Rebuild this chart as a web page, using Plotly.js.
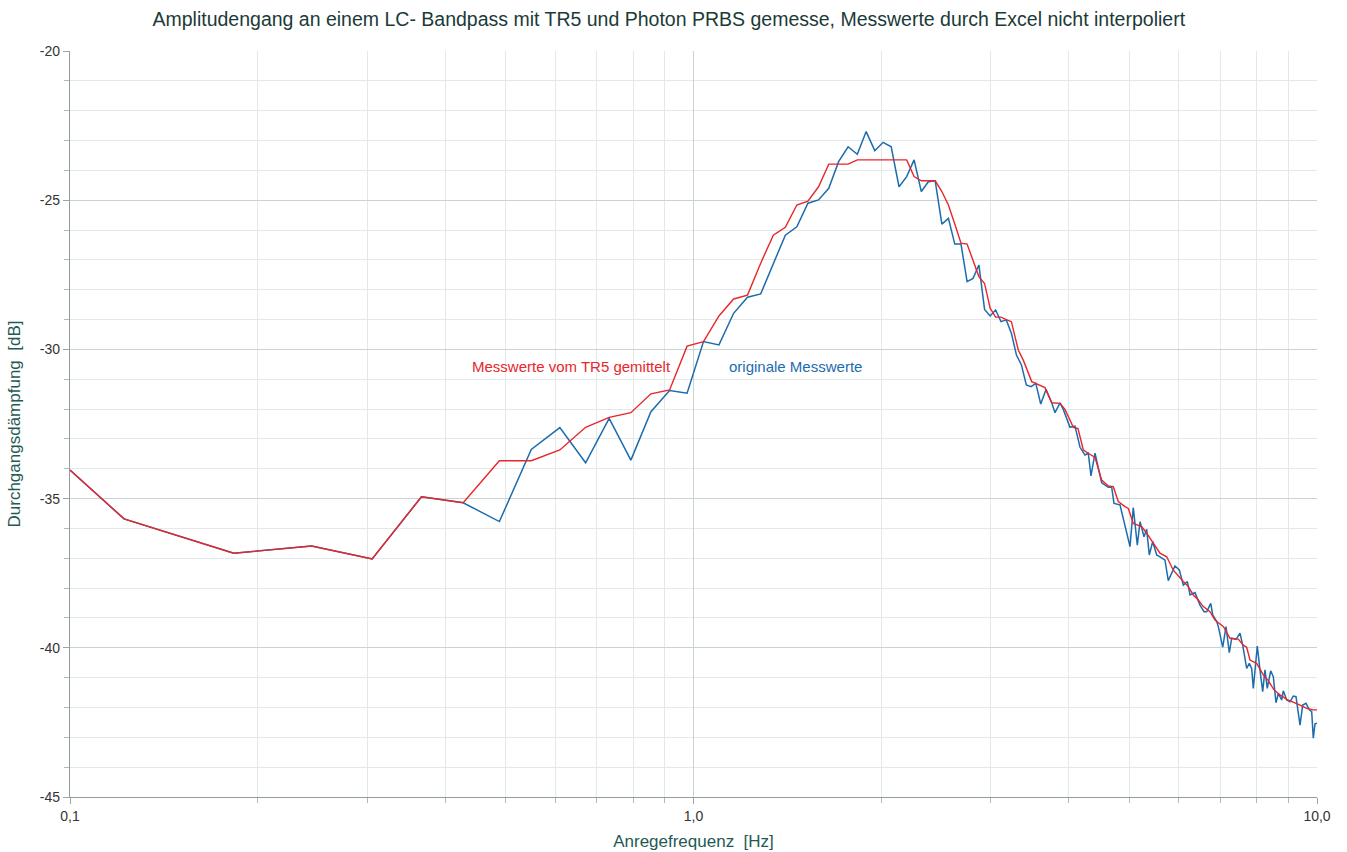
<!DOCTYPE html>
<html>
<head>
<meta charset="utf-8">
<script src="https://cdn.plot.ly/plotly-3.0.1.min.js"></script>
<style>
  html, body { margin: 0; padding: 0; background: #ffffff; }
  #chart { width: 1347px; height: 852px; }
</style>
</head>
<body>
<div id="chart"></div>
<script>
// ---- Data ----
// original measured values (blue)
const origFreq = [
  0.1, 0.1221, 0.1831, 0.2441, 0.3052, 0.3662, 0.4272, 0.4883, 0.5493, 0.6104,
  0.6714, 0.7324, 0.7935, 0.8545, 0.9155, 0.9766, 1.0376, 1.0986, 1.1597, 1.2207,
  1.2817, 1.3428, 1.4038, 1.4648, 1.5259, 1.5869, 1.6479, 1.7090, 1.7700, 1.8311,
  1.8921, 1.9531, 2.0142, 2.0752, 2.1362, 2.1973, 2.2583, 2.3193, 2.3804, 2.4414,
  2.5024, 2.5635, 2.6245, 2.6855, 2.7466, 2.8076, 2.8687, 2.9297, 2.9907, 3.0518,
  3.1128, 3.1738, 3.2349, 3.2959, 3.3569, 3.4180, 3.4790, 3.5400,
  3.605, 3.676, 3.754, 3.800, 3.871, 3.918, 4.016, 4.091, 4.168, 4.245,
  4.297, 4.340, 4.405, 4.515, 4.627, 4.685, 4.725, 4.831, 4.921, 5.013,
  5.074, 5.150, 5.202, 5.279, 5.331, 5.383, 5.451, 5.532, 5.600, 5.704,
  5.774, 5.918, 6.014, 6.104, 6.195, 6.257, 6.373, 6.492, 6.589, 6.655,
  6.754, 6.804, 6.905, 6.946, 7.060, 7.146, 7.234, 7.298, 7.415, 7.525,
  7.600, 7.713, 7.788, 7.857, 7.904, 8.021, 8.101, 8.183, 8.252, 8.323,
  8.428, 8.510, 8.595, 8.669, 8.778, 8.830, 8.942, 9.051, 9.162, 9.254,
  9.392, 9.486, 9.602, 9.720, 9.806, 9.864, 9.926, 10.0
];
const origDb = [
  -34.04, -35.68, -36.83, -36.59, -37.02, -34.94, -35.14, -35.77, -33.35, -32.62,
  -33.80, -32.31, -33.71, -32.09, -31.38, -31.47, -29.74, -29.85, -28.79, -28.25,
  -28.14, -27.11, -26.17, -25.89, -25.10, -24.99, -24.60, -23.71, -23.21, -23.46,
  -22.70, -23.34, -23.06, -23.21, -24.55, -24.21, -23.65, -24.71, -24.38, -24.35,
  -25.80, -25.61, -26.47, -26.47, -27.73, -27.62, -27.17, -28.66, -28.88, -28.68,
  -29.07, -29.01, -29.46, -30.19, -30.52, -31.19, -31.25, -31.14,
  -31.83, -31.34, -31.79, -32.12, -31.79, -32.01, -32.61, -32.57, -33.28, -33.54,
  -33.48, -34.24, -33.48, -34.47, -34.62, -34.62, -35.16, -35.21, -35.88, -36.61,
  -35.30, -36.56, -35.77, -36.28, -36.03, -36.89, -36.44, -36.89, -36.95, -37.06,
  -37.75, -37.26, -37.39, -37.90, -37.78, -38.23, -38.15, -38.57, -38.79, -38.79,
  -38.51, -38.90, -39.12, -39.29, -39.98, -39.29, -40.16, -39.68, -39.72, -39.51,
  -39.91, -40.69, -40.52, -40.69, -41.36, -39.94, -40.74, -41.47, -40.74, -41.36,
  -40.77, -40.97, -41.84, -41.53, -41.75, -41.44, -41.75, -41.81, -41.62, -41.64,
  -42.59, -41.92, -41.86, -42.08, -42.14, -43.03, -42.55, -42.53
];

// values averaged by the TR5 (red)
const avgFreq = [
  0.1, 0.1221, 0.1831, 0.2441, 0.3052, 0.3662, 0.4272, 0.4883, 0.5493, 0.6104,
  0.6714, 0.7324, 0.7935, 0.8545, 0.9155, 0.9766, 1.0376, 1.0986, 1.1597, 1.2207,
  1.2817, 1.3428, 1.4038, 1.4648, 1.5259, 1.5869, 1.6479, 1.7090, 1.7700, 1.8311,
  1.8921, 1.9531, 2.0142, 2.0752, 2.1362, 2.1973, 2.2583, 2.3193, 2.3804, 2.4414,
  2.5024, 2.5635, 2.6245, 2.6855, 2.7466, 2.8076, 2.8687, 2.9297, 2.9907, 3.0518,
  3.1128, 3.1738, 3.2349,
  3.318, 3.380, 3.487, 3.662, 3.754, 3.871, 3.943, 4.066, 4.137, 4.219,
  4.297, 4.405, 4.515, 4.627, 4.713, 4.801, 4.921, 4.982, 5.074, 5.234,
  5.331, 5.463, 5.600, 5.740, 5.882, 6.104, 6.218, 6.333, 6.451, 6.572,
  6.736, 6.862, 7.079, 7.253, 7.478, 7.617, 7.713, 7.808, 8.003, 8.201,
  8.354, 8.532, 8.723, 8.942, 9.142, 9.392, 9.627, 9.864, 10.0
];
const avgDb = [
  -34.04, -35.68, -36.83, -36.59, -37.02, -34.94, -35.14, -33.73, -33.73, -33.37,
  -32.61, -32.28, -32.12, -31.49, -31.36, -29.89, -29.74, -28.88, -28.31, -28.18,
  -27.11, -26.17, -25.91, -25.16, -25.03, -24.55, -23.79, -23.79, -23.79, -23.65,
  -23.65, -23.65, -23.65, -23.65, -23.65, -23.65, -24.21, -24.35, -24.35, -24.35,
  -24.71, -25.16, -25.80, -26.44, -26.47, -27.00, -27.56, -27.79, -28.62, -28.92,
  -28.92, -29.00, -29.07,
  -30.02, -30.36, -31.08, -31.28, -31.79, -31.81, -32.01, -32.61, -32.65, -33.37,
  -33.48, -33.62, -34.38, -34.58, -34.60, -35.10, -35.27, -35.33, -35.83, -35.94,
  -36.16, -36.50, -36.83, -36.95, -37.40, -37.78, -37.95, -38.23, -38.40, -38.62,
  -38.79, -39.07, -39.29, -39.68, -39.71, -39.91, -39.98, -40.41, -40.52, -40.91,
  -41.10, -41.41, -41.58, -41.73, -41.81, -41.92, -42.03, -42.08, -42.08
];

const xTickVals = [0.1, 1, 10];
const xTickText = ['0,1', '1,0', '10,0'];
const xMinorVals = [0.2, 0.3, 0.4, 0.5, 0.6, 0.7, 0.8, 0.9, 2, 3, 4, 5, 6, 7, 8, 9];
const yTickVals = [-45, -40, -35, -30, -25, -20];
const yTickText = ['-45', '-40', '-35', '-30', '-25', '-20'];

const titleText = 'Amplitudengang an einem LC- Bandpass mit TR5 und Photon PRBS gemesse, Messwerte durch Excel nicht interpoliert';
const xTitle = 'Anregefrequenz\u00a0\u00a0[Hz]';
const yTitle = 'Durchgangsdämpfung\u00a0\u00a0[dB]';
const labelAvg = 'Messwerte vom TR5 gemittelt';
const labelOrig = 'originale Messwerte';

// ---- Styles ----
const BLUE = '#1c6cae';
const RED = '#e8262b';
const FONT = 'Liberation Sans, Arial, sans-serif';

const traces = [
  {
    x: origFreq, y: origDb, type: 'scatter', mode: 'lines',
    line: { color: BLUE, width: 1.5 }, name: labelOrig, hoverinfo: 'x+y'
  },
  {
    x: avgFreq, y: avgDb, type: 'scatter', mode: 'lines',
    line: { color: RED, width: 1.4 }, name: labelAvg, hoverinfo: 'x+y'
  }
];

const layout = {
  width: 1347, height: 852,
  margin: { l: 70, r: 30, t: 51, b: 55 },
  paper_bgcolor: '#ffffff', plot_bgcolor: '#ffffff',
  showlegend: false,
  font: { family: FONT, color: '#333333', size: 13 },
  title: {
    text: titleText,
    font: { family: FONT, size: 19.5, color: '#1b3a38' },
    x: 0.4965, xref: 'container', xanchor: 'center',
    y: 0.978, yref: 'container', yanchor: 'middle'
  },
  xaxis: {
    type: 'log', range: [-1, 1],
    tickmode: 'array', tickvals: xTickVals, ticktext: xTickText,
    ticks: 'outside', ticklen: 6, tickcolor: '#9aa6a6',
    showgrid: true, gridcolor: '#c9d3d3', gridwidth: 1,
    showline: true, linecolor: '#8f9d9d', linewidth: 1.2,
    zeroline: false,
    tickfont: { family: FONT, size: 14, color: '#333333' },
    minor: {
      tickmode: 'array', tickvals: xMinorVals,
      showgrid: true, gridcolor: '#e3e8e8', gridwidth: 1,
      ticks: 'outside', ticklen: 5, tickcolor: '#b0baba'
    },
    title: {
      text: xTitle, standoff: 12,
      font: { family: FONT, size: 17, color: '#1f5a55' }
    }
  },
  yaxis: {
    range: [-45, -20],
    tickmode: 'array', tickvals: yTickVals, ticktext: yTickText,
    ticks: 'outside', ticklen: 6, tickcolor: '#9aa6a6',
    showgrid: true, gridcolor: '#c9d3d3', gridwidth: 1,
    showline: true, linecolor: '#8f9d9d', linewidth: 1.2,
    zeroline: false,
    tickfont: { family: FONT, size: 14, color: '#333333' },
    minor: {
      dtick: 1, showgrid: true, gridcolor: '#e3e8e8', gridwidth: 1,
      ticks: 'outside', ticklen: 5, tickcolor: '#b0baba'
    },
    title: {
      text: yTitle, standoff: 14,
      font: { family: FONT, size: 17, color: '#1f5a55' }
    }
  },
  annotations: [
    {
      text: labelAvg, xref: 'paper', yref: 'paper',
      x: 0.3208, y: 0.5777, xanchor: 'left', yanchor: 'middle',
      showarrow: false, font: { family: FONT, size: 15, color: RED }
    },
    {
      text: labelOrig, xref: 'paper', yref: 'paper',
      x: 0.5269, y: 0.5777, xanchor: 'left', yanchor: 'middle',
      showarrow: false, font: { family: FONT, size: 15, color: BLUE }
    }
  ]
};

Plotly.newPlot('chart', traces, layout, { displayModeBar: false, staticPlot: true });
</script>
</body>
</html>
